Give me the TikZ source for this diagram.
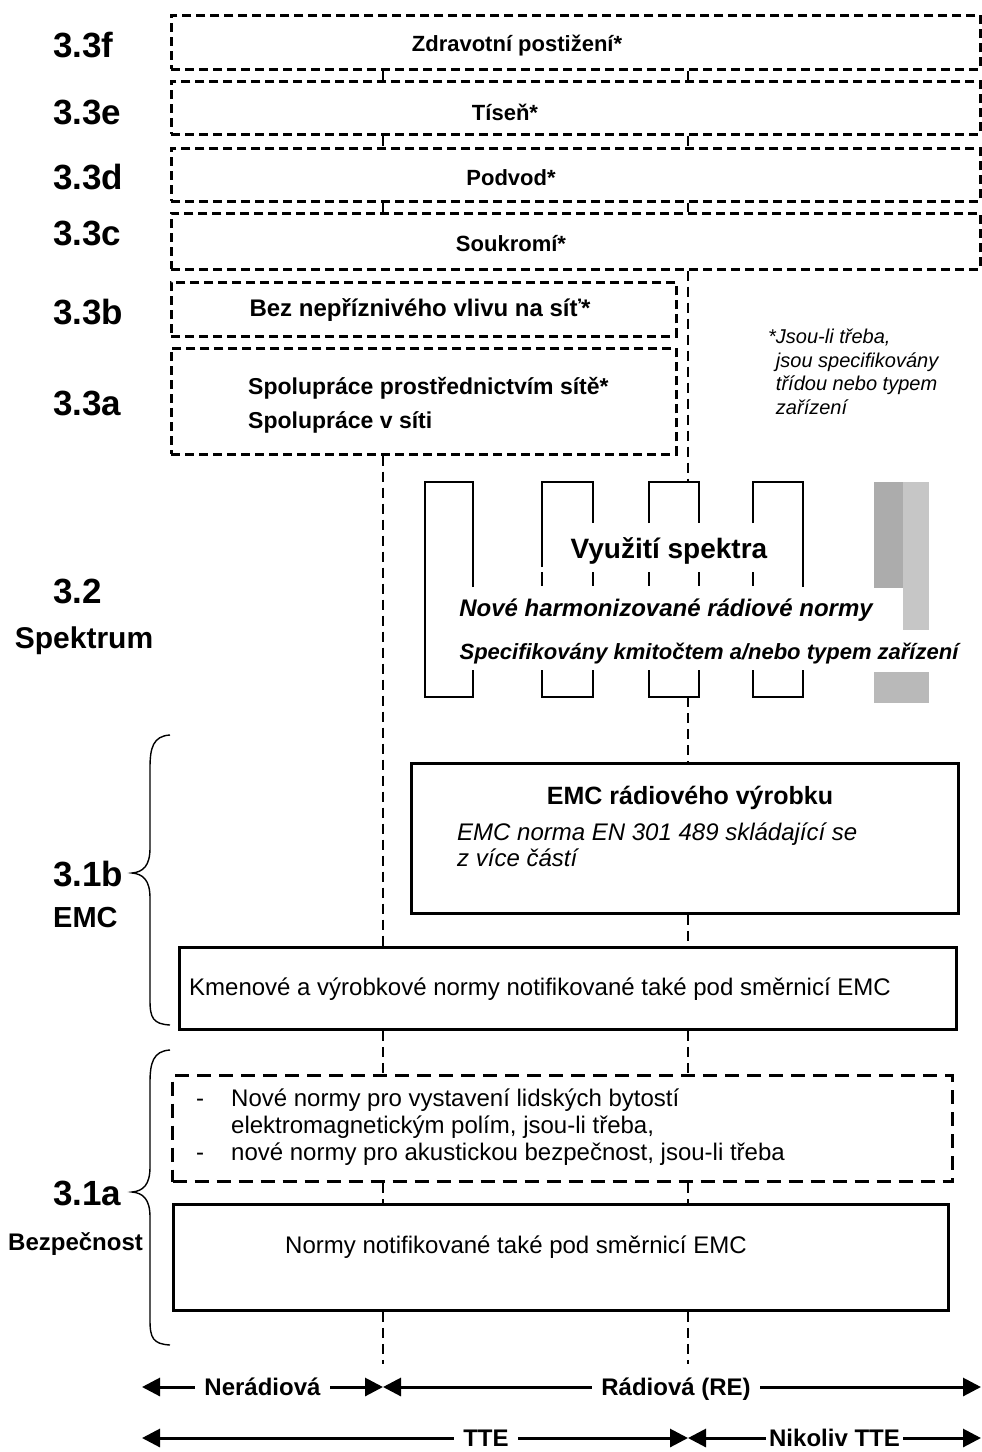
\documentclass[tikz,border=0pt]{standalone}
\usepackage{fontspec}
\setmainfont{Liberation Sans}
\usetikzlibrary{arrows.meta, positioning, calc}
\newcommand{\fsz}[2]{\fontsize{#1}{#2}\selectfont}

\begin{document}
\begin{tikzpicture}[x=1pt,y=-1pt,
    dbox/.style={draw,line width=2.6pt,dash pattern=on 9pt off 5pt,anchor=north west,inner sep=0pt},
    sbox/.style={draw,line width=2.8pt,anchor=north west,inner sep=0pt},
    vline/.style={line width=2.2pt,dash pattern=on 10pt off 6pt},
    fork/.style={line width=2.6pt},
    brc/.style={line width=1.4pt},
    sect/.style={inner sep=0pt,anchor=west,font=\fsz{35}{40}\bfseries},
    lbl/.style={inner sep=0pt,text height=16pt,text depth=0pt,font=\fsz{22}{26}\bfseries},
    body/.style={inner sep=0pt,anchor=west,text height=17pt,text depth=0pt,font=\fsz{24}{28}},
    span/.style={line width=3pt,{Triangle[length=18pt,width=18pt]}-{Triangle[length=18pt,width=18pt]}},
    spanlbl/.style={fill=white,inner xsep=9pt,inner ysep=3pt,text height=17pt,text depth=0pt,font=\fsz{24}{28}\bfseries}]

\useasboundingbox (0,0) rectangle (982,1452);
\coordinate (colL) at (383,0);
\coordinate (colR) at (688,0);
\coordinate (colEnd) at (0,1364);

% 3.3 -- dashed boxes
\node[dbox,minimum width=809pt,minimum height=54pt] (zdrav) at (170,14) {};
\node[dbox,minimum width=809pt,minimum height=53pt] (tisen) at (170,80) {};
\node[dbox,minimum width=809pt,minimum height=53pt] (podvod) at (170,147) {};
\node[dbox,minimum width=809pt,minimum height=56pt] (soukromi) at (170,212) {};
\node[dbox,minimum width=505pt,minimum height=54pt] (bezvlivu) at (170,281) {};
\node[dbox,minimum width=505pt,minimum height=106pt] (spoluprace) at (170,347) {};

\node[lbl] (tzdrav) at (517,43) {Zdravotní postižení*};
\node[lbl] (ttisen) at (505,112) {Tíseň*};
\node[lbl] (tpodvod) at (511,177) {Podvod*};
\node[lbl] (tsoukromi) at (511,243) {Soukromí*};
\node[lbl,font=\fsz{24}{28}\bfseries] (tbezvlivu) at (420,308) {Bez nepříznivého vlivu na síť*};
\node[lbl,anchor=west,font=\fsz{23}{28}\bfseries] (tspol1) at (248,386) {Spolupráce prostřednictvím sítě*};
\node[lbl,anchor=west,font=\fsz{23}{28}\bfseries] (tspol2) at (248,420) {Spolupráce v síti};

\node[inner sep=0pt,anchor=north west,align=left,font=\fsz{20}{23.5}\itshape] (pozn) at (768,329)
  {*Jsou-li třeba,\\\phantom{*}jsou specifikovány\\\phantom{*}třídou nebo typem\\\phantom{*}zařízení};

% 3.2 -- spektrum
\draw[fork] (473,587) -- (473,482) -- (425,482) -- (425,697) -- (473,697) -- (473,670);
\foreach \xa/\xb/\ya/\yb in {542/593/567/523, 649/699/523/523, 753/803/523/587} {
  \draw[fork] (\xa,\ya) -- (\xa,482) -- (\xb,482) -- (\xb,\yb);
  \draw[fork] (\xa,670) -- (\xa,697) -- (\xb,697) -- (\xb,670);
  \draw[fork] (\xa,572) -- (\xa,586);
}
\foreach \xb in {593,699} \draw[fork] (\xb,572) -- (\xb,586);
\fill[gray!65] (874,482) rectangle (903,588);
\fill[gray!45] (903,482) rectangle (929,630);
\fill[gray!55] (874,672) rectangle (929,703);
\coordinate (spekT) at (688,482);
\coordinate (spekB) at (688,697);

\node[inner sep=0pt,text height=20pt,text depth=0pt,font=\fsz{28}{32}\bfseries] (tvyuziti) at (669,548) {Využití spektra};
\node[inner sep=0pt,text height=17pt,text depth=0pt,font=\fsz{24}{28}\bfseries\itshape] (tnove) at (666,608) {Nové harmonizované rádiové normy};
\node[inner sep=0pt,text height=16pt,text depth=0pt,font=\fsz{22}{26}\bfseries\itshape] (tspec) at (709,651) {Specifikovány kmitočtem a/nebo typem zařízení};

% 3.1 -- EMC a bezpecnost
\node[sbox,minimum width=547pt,minimum height=150pt] (emcradio) at (410,762) {};
\node[inner sep=0pt,text height=18pt,text depth=0pt,font=\fsz{25}{29}\bfseries] (temc) at (690,795) {EMC rádiového výrobku};
\node[body,font=\fsz{24}{28}\itshape] (temc1) at (457,832) {EMC norma EN 301 489 skládající se};
\node[body,font=\fsz{24}{28}\itshape] (temc2) at (457,858) {z více částí};

\node[sbox,minimum width=777pt,minimum height=82pt] (kmenove) at (178,946) {};
\node[body] (tkmenove) at (189,987) {Kmenové a výrobkové normy notifikované také pod směrnicí EMC};

\node[draw,line width=3pt,dash pattern=on 14pt off 8pt,anchor=north west,inner sep=0pt,
  minimum width=780pt,minimum height=106pt] (ochrana) at (171,1074) {};
\node[body] (d1) at (196,1098) {-};
\node[body] (tochr1) at (231,1098) {Nové normy pro vystavení lidských bytostí};
\node[body] (tochr2) at (231,1125) {elektromagnetickým polím, jsou-li třeba,};
\node[body] (d2) at (196,1152) {-};
\node[body] (tochr3) at (231,1152) {nové normy pro akustickou bezpečnost, jsou-li třeba};

\node[sbox,minimum width=775pt,minimum height=106pt] (normy) at (172,1203) {};
\node[body] (tnormy) at (285,1245) {Normy notifikované také pod směrnicí EMC};

% svisle delici cary
\foreach \a/\b in {zdrav/tisen, tisen/podvod, podvod/soukromi} {
  \draw[vline] (\a.south -| colL) -- (\b.north -| colL);
  \draw[vline] (\a.south -| colR) -- (\b.north -| colR);
}
\draw[vline] (soukromi.south -| colR) -- (spekT);
\draw[vline] (spekB) -- (emcradio.north -| colR);
\draw[vline] (emcradio.south -| colR) -- (kmenove.north -| colR);
\draw[vline] (spoluprace.south -| colL) -- (kmenove.north -| colL);
\foreach \c in {colL,colR} {
  \draw[vline] (kmenove.south -| \c) -- (ochrana.north -| \c);
  \draw[vline] (ochrana.south -| \c) -- (normy.north -| \c);
  \draw[vline] (normy.south -| \c) -- (\c |- colEnd);
}

% leve popisky a slozene zavorky
\node[sect] (s33f) at (53,45) {3.3f};
\node[sect] (s33e) at (53,112) {3.3e};
\node[sect] (s33d) at (53,177) {3.3d};
\node[sect] (s33c) at (53,233) {3.3c};
\node[sect] (s33b) at (53,312) {3.3b};
\node[sect] (s33a) at (53,403) {3.3a};
\node[sect] (s32) at (53,591) {3.2};
\node[inner sep=0pt,font=\fsz{30}{34}\bfseries] (spektrum) at (84,641) {Spektrum};
\node[sect] (s31b) at (53,874) {3.1b};
\node[inner sep=0pt,anchor=west,font=\fsz{29}{33}\bfseries] (emc) at (53,918) {EMC};
\node[sect] (s31a) at (53,1193) {3.1a};
\node[inner sep=0pt,anchor=west,font=\fsz{24}{28}\bfseries] (bezp) at (8,1244) {Bezpečnost};

\draw[brc] (170,735) .. controls (153,736) and (150,748) .. (150,768) -- (150,848)
  .. controls (150,866) and (143,872) .. (132,873) .. controls (143,874) and (150,880) .. (150,898)
  -- (150,1000) .. controls (150,1018) and (153,1024) .. (170,1025);
\draw[brc] (170,1050) .. controls (153,1051) and (150,1063) .. (150,1083) -- (150,1167)
  .. controls (150,1185) and (143,1191) .. (132,1192) .. controls (143,1193) and (150,1199) .. (150,1217)
  -- (150,1320) .. controls (150,1338) and (153,1344) .. (170,1345);

% dolni sipky
\coordinate (r1L) at (142,1387);
\coordinate (r1M) at (colL |- r1L);
\coordinate (r1R) at (981,1387);
\coordinate (r2L) at (142,1438);
\coordinate (r2M) at (colR |- r2L);
\coordinate (r2R) at (981,1438);
\draw[span] (r1L) -- node[spanlbl] (nerad) {Nerádiová} (r1M);
\draw[span] (r1M) -- node[spanlbl,pos=0.49] (radio) {Rádiová (RE)} (r1R);
\draw[span] (r2L) -- node[spanlbl,pos=0.63] (tte) {TTE} (r2M);
\draw[span] (r2M) -- node[spanlbl,inner xsep=3pt] (ntte) {Nikoliv TTE} (r2R);
\end{tikzpicture}
\end{document}
